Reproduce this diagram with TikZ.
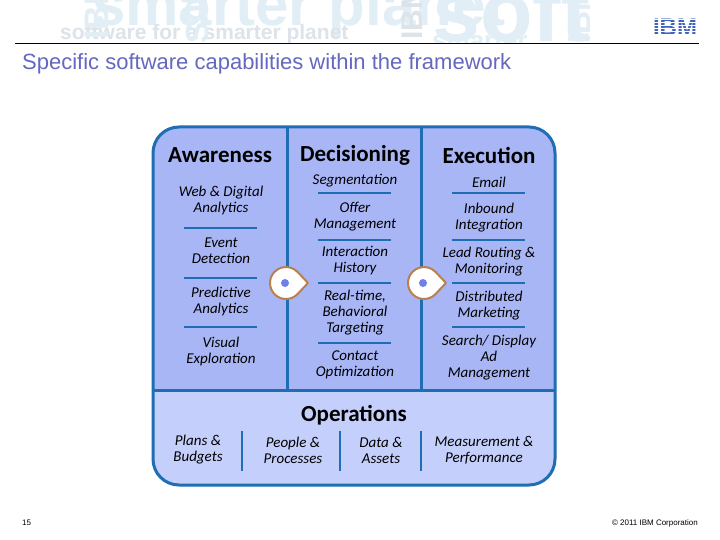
\documentclass[tikz,border=0pt]{standalone}
\usepackage{fontspec}
\setmainfont{Carlito}
\newfontfamily\arialf{Liberation Sans}
\usetikzlibrary{calc}
\definecolor{rule}{HTML}{1F6DB3}
\definecolor{upper}{HTML}{A9B6F6}
\definecolor{lower}{HTML}{C5CFFB}
\definecolor{titlec}{HTML}{6468BE}
\definecolor{wm}{HTML}{E2EEF5}
\definecolor{wmb}{HTML}{DCE4EA}
\definecolor{pin}{HTML}{B9804F}
\definecolor{pindot}{HTML}{6F80EC}
\definecolor{logo}{HTML}{3E62BE}
\tikzset{
  head/.style={font=\fontsize{23}{26}\selectfont\bfseries, text=black, inner sep=0pt},
  item/.style={font=\fontsize{15}{16}\selectfont\itshape, align=center, text=black, inner sep=0pt},
  divider/.style={draw=rule, line width=2pt},
  frame/.style={draw=rule, line width=3pt},
  wmark/.style={inner sep=0pt, anchor=base west, text=wm, font=\arialf\bfseries},
  small/.style={inner sep=0pt, font=\arialf\fontsize{8}{10}\selectfont},
}
\newcommand{\pinmark}[3]{%
  \draw[fill=white, draw=pin, line width=2pt, line join=round]
    ($(#2,#3)+(43:16)$) arc[start angle=43, end angle=317, radius=16] -- ($(#2,#3)+(22,0)$) -- cycle;
  \fill[pindot] (#2-1,#3) circle[radius=4];
}
\begin{document}
\begin{tikzpicture}[x=1pt,y=-1pt]
\useasboundingbox (0,0) rectangle (720,540);
\fill[white] (0,0) rectangle (720,540);
% watermark
\begin{scope}
\clip (0,0) rectangle (720,43);
\node[wmark, font=\arialf\bfseries\fontsize{60}{60}\selectfont] (wm1) at (92,26) {smarter planet};
\node[wmark, font=\arialf\bfseries\fontsize{86}{86}\selectfont] (wm2) at (432,42) {soft};
\node[wmark, text=wmb, font=\arialf\bfseries\fontsize{21}{21}\selectfont] (wm3) at (60,40) {software for a smarter planet};
\node[wmark, font=\arialf\bfseries\fontsize{34}{34}\selectfont, rotate=90] (wm4) at (108,40) {IBM};
\node[wmark, text=wmb, font=\arialf\bfseries\fontsize{30}{30}\selectfont, rotate=90] (wm5) at (422,40) {IBM};
\node[wmark, font=\arialf\bfseries\fontsize{32}{32}\selectfont, rotate=90] (wm6) at (208,44) {SOA};
\node[wmark, font=\arialf\bfseries\fontsize{32}{32}\selectfont, rotate=90] (wm8) at (590,44) {IBM};
\node[wmark, font=\arialf\bfseries\fontsize{26}{26}\selectfont] (wm7) at (432,50) {smarter};
\end{scope}
% logo
\node[inner sep=0pt, text=logo, font=\arialf\bfseries\fontsize{24}{24}\selectfont] (logoibm) at (675,27) {IBM};
\foreach \yy in {19.5,22.5,25.5,28.5,31.5,34.5}
  \draw[white, line width=0.9pt] (650,\yy) -- (700,\yy);
% header
\draw[black, line width=1pt] (15,43.5) -- (699,43.5);
\node[inner sep=0pt, anchor=base west, text=titlec, font=\arialf\fontsize{22}{24}\selectfont] (title) at (22,70) {Specific software capabilities within the framework};
% panel
\fill[lower, rounded corners=26pt] (153,127) rectangle (555,485);
\begin{scope}
\clip (150,124) rectangle (558,390);
\fill[upper, rounded corners=26pt] (153,127) rectangle (555,485);
\end{scope}
\draw[frame] (287,127) -- (287,390);
\draw[frame] (421,127) -- (421,390);
\draw[frame] (153,390) -- (555,390);
\draw[frame, rounded corners=26pt] (153,127) rectangle (555,485);
% dividers
\foreach \yy in {228,278,327} \draw[divider] (184,\yy) -- (257,\yy);
\foreach \yy in {193,240,283,343} \draw[divider] (318,\yy) -- (391,\yy);
\foreach \yy in {193,240,283,327} \draw[divider] (452,\yy) -- (525,\yy);
\foreach \xx in {242,340,421} \draw[divider] (\xx,431) -- (\xx,471);
% pins
\pinmark{p1}{286}{283}
\pinmark{p2}{424}{283}
% headings
\node[head] (h1) at (220,155) {Awareness};
\node[head] (h2) at (355,155) {Decisioning};
\node[head] (h3) at (489,155) {Execution};
\node[head] (h4) at (354,415) {Operations};
% items
\node[item] (a1) at (221,201) {Web \& Digital\\Analytics};
\node[item] (a2) at (221,251) {Event\\Detection};
\node[item] (a3) at (221,301) {Predictive\\Analytics};
\node[item] (a4) at (221,351) {Visual\\Exploration};
\node[item] (d1) at (355,181) {Segmentation};
\node[item] (d2) at (355,217) {Offer\\Management};
\node[item] (d3) at (355,261) {Interaction\\History};
\node[item] (d4) at (355,313) {Real-time,\\Behavioral\\Targeting};
\node[item] (d5) at (355,365) {Contact\\Optimization};
\node[item] (e1) at (489,182) {Email};
\node[item] (e2) at (489,218) {Inbound\\Integration};
\node[item] (e3) at (489,262) {Lead Routing \&\\Monitoring};
\node[item] (e4) at (489,306) {Distributed\\Marketing};
\node[item] (e5) at (489,358) {Search/ Display\\Ad\\Management};
\node[item] (o1) at (198,450) {Plans \&\\Budgets};
\node[item] (o2) at (293,450) {People \&\\Processes};
\node[item] (o3) at (381,450) {Data \&\\Assets};
\node[item] (o4) at (484,450) {Measurement \&\\Performance};
% footer
\node[small, anchor=base west] (pg) at (22,525) {15};
\node[small, anchor=base east] (copy) at (698,525) {© 2011 IBM Corporation};
\end{tikzpicture}
\end{document}
